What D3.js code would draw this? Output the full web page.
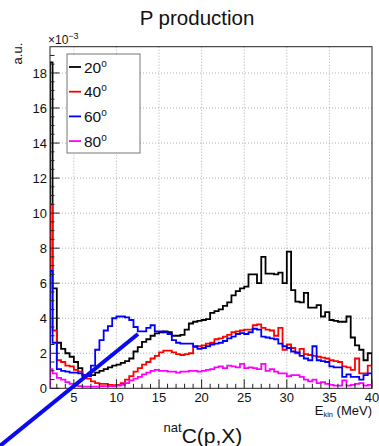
<!DOCTYPE html>
<html>
<head>
<meta charset="utf-8">
<script src="https://cdn.jsdelivr.net/npm/d3@7"></script>
<style>
  body { margin: 0; background: #fff; }
  svg { display: block; font-family: "Liberation Sans", Arial, Helvetica, sans-serif; }
</style>
</head>
<body>
<div id="chart"></div>
<script>
// bins of 0.5 MeV starting at 2.0 MeV
const binStart = 2.0;
const binWidth = 0.5;

const angles = ['20', '40', '60', '80'];
const colors = ['#000000', '#ff0000', '#0000ff', '#ff00ff'];

const h20 = [18.6, 5.7, 2.6, 2.25, 2.0, 1.8, 1.5, 1.15, 0.7, 0.7,
  0.75, 0.9, 1.0, 1.1, 1.2, 1.3, 1.35, 1.45, 1.55, 1.7,
  2.1, 2.35, 2.65, 2.8, 3.0, 3.13, 3.2, 3.25, 3.2, 3.0,
  3.0, 3.05, 3.35, 3.7, 3.8, 3.85, 3.9, 3.95, 4.3, 4.4,
  4.5, 4.7, 4.9, 5.3, 5.55, 5.7, 5.8, 6.5, 6.5, 6.0,
  7.5, 6.55, 6.55, 6.5, 6.6, 6.0, 7.8, 5.6, 4.95, 4.9,
  5.45, 4.6, 4.6, 4.75, 4.1, 4.35, 3.9, 3.85, 3.8, 3.8,
  4.1, 2.9, 2.45, 2.2, 1.6, 2.0];
const h40 = [10.5, 3.3, 1.6, 1.5, 1.3, 1.25, 1.05, 0.95, 0.75, 0.55,
  0.4, 0.3, 0.25, 0.25, 0.2, 0.18, 0.2, 0.3, 0.5, 0.7,
  0.95, 1.15, 1.35, 1.5, 1.7, 1.85, 2.05, 2.15, 2.15, 2.05,
  1.95, 1.9, 1.95, 2.0, 2.35, 2.4, 2.45, 2.55, 2.6, 2.8,
  2.85, 2.95, 3.05, 3.2, 3.25, 3.3, 3.35, 3.35, 3.6, 3.65,
  3.45, 3.35, 3.3, 3.0, 3.45, 2.2, 2.5, 2.3, 2.0, 2.25,
  1.95, 1.9, 1.85, 1.8, 1.75, 1.7, 1.6, 1.55, 1.5, 1.25,
  1.2, 1.05, 1.7, 0.85, 0.85, 1.3];
const h60 = [6.7, 2.6, 1.1, 1.0, 0.95, 0.9, 0.9, 0.85, 0.75, 0.7,
  1.3, 2.2, 2.75, 3.3, 3.55, 4.0, 4.1, 4.1, 4.05, 3.9,
  3.5, 3.25, 3.25, 3.45, 3.6, 3.25, 3.25, 3.2, 3.1, 2.75,
  2.6, 2.55, 2.55, 2.55, 2.4, 2.25, 2.3, 2.4, 2.5, 2.55,
  2.6, 2.7, 2.85, 2.95, 3.1, 3.15, 3.1, 3.2, 3.4, 3.35,
  2.95, 2.9, 2.85, 2.8, 2.55, 2.4, 2.3, 2.1, 2.05, 1.85,
  1.7, 1.6, 2.4, 1.6, 1.55, 1.5, 1.25, 1.2, 1.2, 0.65,
  0.8, 0.65, 0.65, 0.5, 0.75, 0.85];
const h80 = [1.1, 0.85, 0.6, 0.5, 0.35, 0.25, 0.15, 0.12, 0.1, 0.1,
  0.1, 0.1, 0.12, 0.12, 0.12, 0.12, 0.15, 0.2, 0.3, 0.45,
  0.55, 0.65, 0.8, 0.9, 1.0, 1.05, 1.0, 1.0, 0.95, 0.95,
  0.9, 0.95, 0.95, 1.0, 1.0, 0.95, 1.0, 1.05, 1.1, 1.2,
  1.25, 1.15, 1.3, 1.25, 1.2, 1.4, 1.15, 1.2, 1.15, 1.1,
  1.4, 1.0, 1.1, 0.95, 0.85, 0.85, 0.7, 0.75, 0.75, 0.65,
  0.5, 0.4, 0.5, 0.3, 0.35, 0.25, 0.2, 0.15, 0.15, 0.45,
  0.15, 0.2, 0.25, 0.3, 0.15, 0.2];

const xTicks = [5, 10, 15, 20, 25, 30, 35, 40];
const yTicks = [0, 2, 4, 6, 8, 10, 12, 14, 16, 18];
// hand-drawn annotation stroke, in data units (E, value x1e-3)
const annotLine = [[-3.67, -3.29], [12.53, 3.10]];

const W = 379, H = 446;
const mLeft = 50, mRight = 372, mTop = 46.7, mBottom = 388.3;

const x = d3.scaleLinear().domain([2.2, 40]).range([mLeft, mRight]);
const y = d3.scaleLinear().domain([0, 19.5]).range([mBottom, mTop]);

const svg = d3.select('#chart').append('svg')
  .attr('width', W).attr('height', H).attr('viewBox', [0, 0, W, H]);
svg.append('rect').attr('width', W).attr('height', H).attr('fill', '#fff');

// grid
const grid = svg.append('g').attr('stroke', '#9a9a9a').attr('stroke-width', 0.8).attr('stroke-dasharray', '1,2');
xTicks.filter(t => t < 40).forEach(t => {
  grid.append('line').attr('x1', x(t)).attr('x2', x(t)).attr('y1', mTop).attr('y2', mBottom);
});
yTicks.filter(t => t > 0).forEach(t => {
  grid.append('line').attr('x1', mLeft).attr('x2', mRight).attr('y1', y(t)).attr('y2', y(t));
});

// histograms
svg.append('clipPath').attr('id', 'frame')
  .append('rect').attr('x', mLeft).attr('y', mTop).attr('width', mRight - mLeft).attr('height', mBottom - mTop);

function stepPath(vals) {
  const [x0, x1] = x.domain();
  const pts = [[x0, 0]];
  vals.forEach((v, i) => {
    const a = Math.max(x0, binStart + i * binWidth);
    const b = Math.min(x1, binStart + (i + 1) * binWidth);
    pts.push([a, v], [b, v]);
  });
  pts.push([x1, 0]);
  return d3.line().x(d => x(d[0])).y(d => y(d[1]))(pts);
}

const series = [h20, h40, h60, h80];
const hg = svg.append('g').attr('clip-path', 'url(#frame)');
series.forEach((s, i) => {
  hg.append('path').attr('d', stepPath(s))
    .attr('fill', 'none').attr('stroke', colors[i]).attr('stroke-width', 1.8)
    .attr('stroke-linejoin', 'miter');
});

// frame
svg.append('rect').attr('x', mLeft).attr('y', mTop).attr('width', mRight - mLeft).attr('height', mBottom - mTop)
  .attr('fill', 'none').attr('stroke', '#222').attr('stroke-width', 1);

// ticks
const tk = svg.append('g').attr('stroke', '#222').attr('stroke-width', 1);
d3.range(3, 41, 1).forEach(t => {
  const len = t % 5 === 0 ? 9 : 4.5;
  tk.append('line').attr('x1', x(t)).attr('x2', x(t)).attr('y1', mBottom).attr('y2', mBottom - len);
});
d3.range(0, 19.5, 0.5).forEach(t => {
  const len = t % 2 === 0 ? 9.5 : 4.5;
  tk.append('line').attr('x1', mLeft).attr('x2', mLeft + len).attr('y1', y(t)).attr('y2', y(t));
});

// tick labels
svg.append('g').selectAll('text').data(xTicks).join('text')
  .attr('x', d => x(d)).attr('y', mBottom + 14)
  .attr('text-anchor', 'middle').attr('font-size', 13).attr('fill', '#111')
  .text(d => d);
svg.append('g').selectAll('text').data(yTicks).join('text')
  .attr('x', mLeft - 3).attr('y', d => y(d) + 4.6)
  .attr('text-anchor', 'end').attr('font-size', 13).attr('fill', '#111')
  .text(d => d);

// exponent
const ex = svg.append('text').attr('x', 48).attr('y', 44).attr('font-size', 12).attr('fill', '#111');
ex.append('tspan').text('\u00d710');
ex.append('tspan').attr('dy', -5).attr('font-size', 9).text('\u22123');

// axis titles
svg.append('text').attr('transform', `translate(22,${mTop - 4}) rotate(-90)`)
  .attr('text-anchor', 'end').attr('font-size', 13).attr('fill', '#111').text('a.u.');
const xt = svg.append('text').attr('x', mRight).attr('y', 414.5).attr('text-anchor', 'end')
  .attr('font-size', 13).attr('fill', '#111');
xt.append('tspan').text('E');
xt.append('tspan').attr('font-size', 7.5).attr('dy', 2).text('kin');
xt.append('tspan').attr('dy', -2).text(' (MeV)');

// title
svg.append('text').attr('x', 197).attr('y', 25).attr('text-anchor', 'middle')
  .attr('font-size', 20.5).attr('fill', '#111').text('P production');

// bottom label
const bl = svg.append('text').attr('x', 203).attr('y', 443).attr('text-anchor', 'middle')
  .attr('font-size', 21).attr('fill', '#111');
bl.append('tspan').attr('font-size', 13).attr('dy', -11).text('nat');
bl.append('tspan').attr('dy', 11).text('C(p,X)');

// legend
const lg = svg.append('g');
lg.append('rect').attr('x', 67).attr('y', 54).attr('width', 73).attr('height', 99)
  .attr('fill', '#fff').attr('stroke', '#777').attr('stroke-width', 1);
angles.forEach((a, i) => {
  const cy = 67 + i * 24.7;
  lg.append('line').attr('x1', 69).attr('x2', 81).attr('y1', cy).attr('y2', cy)
    .attr('stroke', colors[i]).attr('stroke-width', 1.8);
  const t = lg.append('text').attr('x', 84).attr('y', cy + 5.5).attr('font-size', 15.5).attr('fill', '#111');
  t.append('tspan').text(a);
  t.append('tspan').attr('font-size', 10).attr('dy', -6).text('o');
});

// annotation stroke
svg.append('line')
  .attr('x1', x(annotLine[0][0])).attr('y1', y(annotLine[0][1]))
  .attr('x2', x(annotLine[1][0])).attr('y2', y(annotLine[1][1]))
  .attr('stroke', '#0a0af0').attr('stroke-width', 4);
</script>
</body>
</html>
